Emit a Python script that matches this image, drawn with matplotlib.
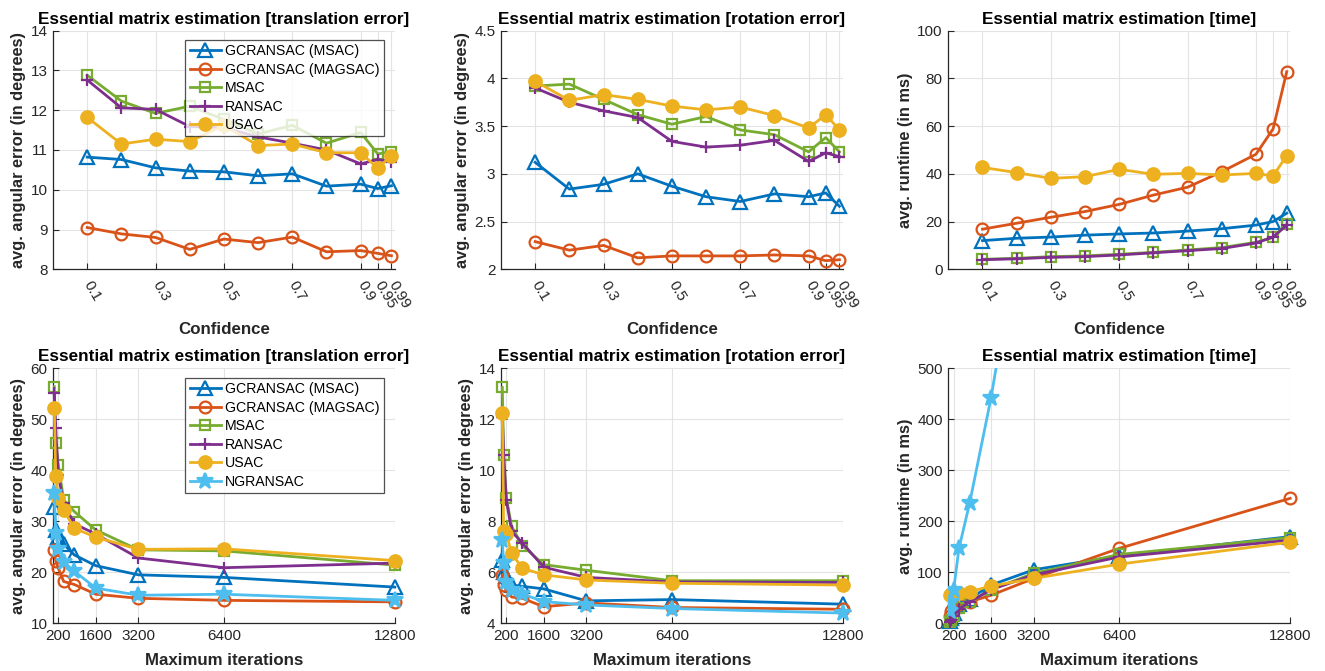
import numpy as np
import matplotlib.pyplot as plt

plt.rcParams['font.family'] = ['Liberation Sans', 'DejaVu Sans']

# x osi
confidence = [0.1, 0.2, 0.3, 0.4, 0.5, 0.6, 0.7, 0.8, 0.9, 0.95, 0.99]
conf_ticks = [0.1, 0.3, 0.5, 0.7, 0.9, 0.95, 0.99]
iterations = [50, 100, 200, 400, 800, 1600, 3200, 6400, 12800]
iter_ticks = [200, 1600, 3200, 6400, 12800]

methods = ['GCRANSAC (MSAC)', 'GCRANSAC (MAGSAC)', 'MSAC', 'RANSAC', 'USAC', 'NGRANSAC']

# gornji red: ovisnost o confidence (redoslijed kao u methods, bez NGRANSAC)
conf_trans = [
    [10.82, 10.76, 10.55, 10.47, 10.45, 10.35, 10.40, 10.09, 10.14, 10.03, 10.10],
    [9.05, 8.89, 8.80, 8.50, 8.76, 8.67, 8.81, 8.44, 8.47, 8.40, 8.34],
    [12.88, 12.23, 11.92, 12.10, 11.77, 11.40, 11.62, 11.17, 11.44, 10.90, 10.96],
    [12.76, 12.06, 12.02, 11.59, 11.56, 11.33, 11.17, 11.00, 10.65, 10.76, 10.70],
    [11.82, 11.15, 11.27, 11.21, 11.62, 11.11, 11.15, 10.93, 10.93, 10.54, 10.86],
]
conf_rot = [
    [3.12, 2.84, 2.89, 3.00, 2.87, 2.76, 2.71, 2.79, 2.76, 2.80, 2.66],
    [2.29, 2.20, 2.25, 2.12, 2.14, 2.14, 2.14, 2.15, 2.14, 2.09, 2.10],
    [3.92, 3.94, 3.78, 3.62, 3.52, 3.60, 3.46, 3.41, 3.23, 3.38, 3.23],
    [3.90, 3.75, 3.66, 3.59, 3.34, 3.28, 3.30, 3.35, 3.13, 3.22, 3.18],
    [3.97, 3.77, 3.83, 3.78, 3.71, 3.67, 3.70, 3.61, 3.48, 3.62, 3.46],
]
conf_time = [
    [12.0, 13.0, 13.5, 14.3, 14.8, 15.2, 16.0, 17.0, 18.5, 20.0, 23.5],
    [16.8, 19.3, 21.8, 24.2, 27.2, 31.1, 34.4, 40.9, 48.2, 58.8, 82.8],
    [4.2, 4.6, 5.3, 5.6, 6.3, 7.1, 8.1, 9.1, 11.3, 13.4, 18.9],
    [4.0, 4.4, 5.0, 5.3, 6.0, 6.9, 7.8, 8.7, 11.0, 13.5, 18.5],
    [42.7, 40.5, 38.1, 38.8, 41.9, 39.8, 40.2, 39.5, 40.2, 39.1, 47.6],
]

# donji red: ovisnost o maksimalnom broju iteracija
iter_trans = [
    [32.9, 28.2, 27.0, 25.5, 23.4, 21.3, 19.5, 19.0, 17.1],
    [24.4, 22.3, 20.8, 18.2, 17.6, 15.7, 14.9, 14.5, 14.2],
    [56.4, 45.3, 41.0, 34.2, 31.9, 28.3, 24.4, 24.2, 21.4],
    [55.1, 48.2, 39.1, 33.5, 29.5, 27.5, 22.8, 20.9, 21.8],
    [52.2, 38.9, 34.5, 32.2, 28.6, 26.9, 24.5, 24.6, 22.3],
    [35.5, 27.7, 24.5, 22.0, 20.2, 16.9, 15.5, 15.7, 14.5],
]
iter_rot = [
    [6.50, 6.00, 5.85, 5.50, 5.45, 5.35, 4.88, 4.93, 4.75],
    [5.90, 5.50, 5.30, 5.03, 4.98, 4.65, 4.80, 4.62, 4.55],
    [13.25, 10.60, 8.90, 7.80, 7.05, 6.30, 6.08, 5.67, 5.67],
    [12.10, 10.60, 8.85, 7.60, 7.15, 6.20, 5.80, 5.62, 5.60],
    [12.25, 7.60, 7.50, 6.74, 6.16, 5.90, 5.70, 5.57, 5.50],
    [7.25, 6.35, 5.60, 5.30, 5.15, 4.85, 4.72, 4.58, 4.40],
]
iter_time = [
    [4, 10, 20, 38, 48, 75, 105, 132, 170],
    [15, 25, 33, 38, 42, 55, 88, 147, 245],
    [2, 6, 14, 30, 42, 66, 98, 135, 168],
    [3, 7, 15, 28, 42, 66, 95, 130, 163],
    [56, 57, 58, 59, 62, 73, 88, 116, 159],
    [25, 42, 66, 147, 236, 442, 940, 1880, 3760],
]

boje = ['#0072BD', '#D95319', '#77AC30', '#7E2F8E', '#EDB120', '#4DBEEE']
markeri = ['^', 'o', 's', '+', 'o', '*']
velicine = [10, 8.5, 6.5, 9, 9, 12]
puni = [False, False, False, True, True, True]

siva = '#262626'


def crtaj(pos, x, rows, title, xlabel, ylim, yticks, yticklabels, ylabel,
          xticks, xlim, rotiraj, legenda):
    ax = fig.add_axes(pos)
    for i, y in enumerate(rows):
        clip = max(y) > ylim[1]
        ax.plot(x, y, color=boje[i], marker=markeri[i], markersize=velicine[i],
                markerfacecolor=boje[i] if puni[i] else 'none',
                markeredgecolor=boje[i], markeredgewidth=1.6, linewidth=2,
                label=methods[i], clip_on=clip, zorder=3 + i)
    ax.set_xlim(xlim)
    ax.set_ylim(ylim)
    ax.set_yticks(yticks)
    ax.set_yticklabels(yticklabels)
    ax.set_xticks(xticks)
    ax.grid(True, color='#e3e3e3', linewidth=0.8)
    ax.set_axisbelow(True)
    for s in ['top', 'right']:
        ax.spines[s].set_visible(False)
    for s in ['left', 'bottom']:
        ax.spines[s].set_color(siva)
        ax.spines[s].set_linewidth(0.9)
    ax.tick_params(direction='in', length=4, colors=siva, labelsize=11,
                   width=0.8, pad=4)
    if rotiraj:
        ax.set_xticklabels([str(t) for t in xticks], rotation=-60,
                           ha='left', va='center', rotation_mode='anchor')
        ax.tick_params(axis='x', pad=9)
        ax.set_xlabel(xlabel, fontsize=12.2, fontweight='bold', color=siva, labelpad=8)
    else:
        ax.set_xticklabels([str(t) for t in xticks])
        ax.set_xlabel(xlabel, fontsize=12.2, fontweight='bold', color=siva, labelpad=7)
    ax.set_title(title, fontsize=12.3, fontweight='bold', pad=5)
    ax.set_ylabel(ylabel, fontsize=11.8, fontweight='bold', color=siva, labelpad=3)
    if legenda:
        leg = ax.legend(loc='upper right', bbox_to_anchor=(0.968, 0.962),
                        fontsize=10.2, frameon=True, fancybox=False,
                        handlelength=2.2, borderpad=0.3, labelspacing=0.32,
                        handletextpad=0.3, borderaxespad=0)
        leg.get_frame().set_edgecolor(siva)
        leg.get_frame().set_linewidth(0.9)
        leg.set_zorder(20)
    return ax


fig = plt.figure(figsize=(13.25, 6.71), dpi=100)

naslov_t = 'Essential matrix estimation [translation error]'
naslov_r = 'Essential matrix estimation [rotation error]'
naslov_v = 'Essential matrix estimation [time]'
kut = 'avg. angular error (in degrees)'
vrijeme = 'avg. runtime (in ms)'

gornji = 0.5987
donji = 0.0711
h_g = 0.3556
h_d = 0.3800
lijevo = [0.0400, 0.3781, 0.7157]
sirina = 0.2580

crtaj([lijevo[0], gornji, sirina, h_g], confidence, conf_trans, naslov_t, 'Confidence',
      (8, 14), range(8, 15), [str(v) for v in range(8, 15)], kut,
      conf_ticks, (0, 1), True, True)
crtaj([lijevo[1], gornji, sirina, h_g], confidence, conf_rot, naslov_r, 'Confidence',
      (2, 4.5), [2, 2.5, 3, 3.5, 4, 4.5], ['2', '2.5', '3', '3.5', '4', '4.5'], kut,
      conf_ticks, (0, 1), True, False)
crtaj([lijevo[2], gornji, sirina, h_g], confidence, conf_time, naslov_v, 'Confidence',
      (0, 100), range(0, 101, 20), [str(v) for v in range(0, 101, 20)], vrijeme,
      conf_ticks, (0, 1), True, False)

crtaj([lijevo[0], donji, sirina, h_d], iterations, iter_trans, naslov_t, 'Maximum iterations',
      (10, 60), range(10, 61, 10), [str(v) for v in range(10, 61, 10)], kut,
      iter_ticks, (0, 12800), False, True)
crtaj([lijevo[1], donji, sirina, h_d], iterations, iter_rot, naslov_r, 'Maximum iterations',
      (4, 14), range(4, 15, 2), [str(v) for v in range(4, 15, 2)], kut,
      iter_ticks, (0, 12800), False, False)
crtaj([lijevo[2], donji, sirina, h_d], iterations, iter_time, naslov_v, 'Maximum iterations',
      (0, 500), range(0, 501, 100), [str(v) for v in range(0, 501, 100)], vrijeme,
      iter_ticks, (0, 12800), False, False)

plt.savefig('out.png', dpi=100)
